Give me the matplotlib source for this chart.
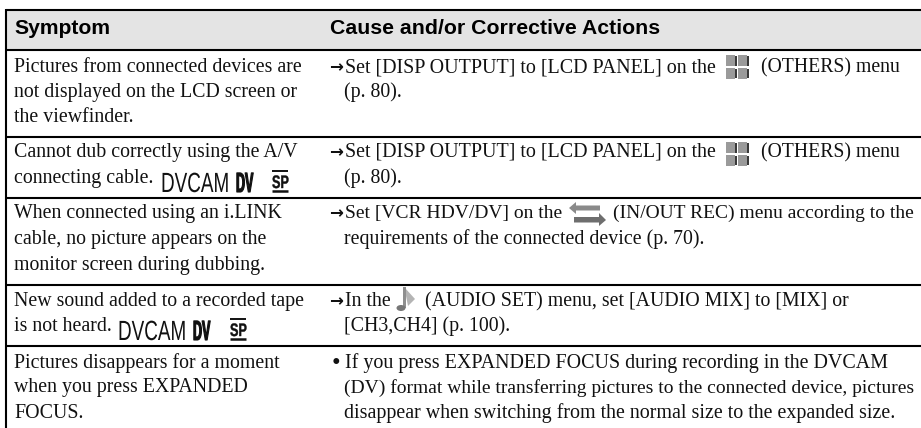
import matplotlib
matplotlib.use('Agg')
import matplotlib.pyplot as plt
import matplotlib.patheffects as pe
from matplotlib.patches import Rectangle, Polygon, Ellipse
from matplotlib.transforms import Affine2D

headers = ['Symptom', 'Cause and/or Corrective Actions']

symptoms = [
    ['Pictures from connected devices are', 'not displayed on the LCD screen or', 'the viewfinder.'],
    ['Cannot dub correctly using the A/V', 'connecting cable.'],
    ['When connected using an i.LINK', 'cable, no picture appears on the', 'monitor screen during dubbing.'],
    ['New sound added to a recorded tape', 'is not heard.'],
    ['Pictures disappears for a moment', 'when you press EXPANDED', 'FOCUS.'],
]
symptom_y = [[72, 97, 122], [157, 183], [218, 244, 270], [306, 331], [368, 392, 418]]

actions = [
    ['Set [DISP OUTPUT] to [LCD PANEL] on the', '(OTHERS) menu', '(p. 80).'],
    ['Set [DISP OUTPUT] to [LCD PANEL] on the', '(OTHERS) menu', '(p. 80).'],
    ['Set [VCR HDV/DV] on the', '(IN/OUT REC) menu according to the', 'requirements of the connected device (p. 70).'],
    ['In the', '(AUDIO SET) menu, set [AUDIO MIX] to [MIX] or', '[CH3,CH4] (p. 100).'],
    ['If you press EXPANDED FOCUS during recording in the DVCAM',
     '(DV) format while transferring pictures to the connected device, pictures',
     'disappear when switching from the normal size to the expanded size.'],
]
action_x = [[345, 761, 344], [345, 761, 344], [345, 613, 344], [345, 425, 344], [345, 344, 344]]
action_y = [[72, 72, 97], [157, 157, 183], [218, 218, 244], [306, 306, 331], [368, 393, 418]]
# the original squeezes or opens some lines, so a few sizes differ
action_fs = [[14.45, 14.2, 14.3], [14.45, 14.2, 14.3], [14.0, 14.0, 14.3], [14.3, 14.35, 14.35], [14.43, 14.0, 14.4]]
markers = ['\u2192', '\u2192', '\u2192', '\u2192', '\u2022']
marker_y = [72, 157, 218, 306, 368]

rules = [10, 50, 137, 198, 285, 346]

serif = ['Liberation Serif', 'DejaVu Serif']
sans = 'Liberation Sans'
ink = '#111111'


class Squeeze(pe.AbstractPathEffect):
    # no condensed font installed, so the glyphs are squeezed when drawn
    def __init__(self, sx, lw=0):
        super().__init__()
        self.sx = sx
        self.lw = lw

    def draw_path(self, renderer, gc, tpath, affine, rgbFace=None):
        gc.set_linewidth(self.lw)
        gc.set_foreground(ink)
        renderer.draw_path(gc, tpath, Affine2D().scale(self.sx, 1) + affine, rgbFace)


fig = plt.figure(figsize=(9.21, 4.28), dpi=100)
ax = fig.add_axes([0, 0, 1, 1])
ax.set_xlim(0, 921)
ax.set_ylim(428, 0)
ax.axis('off')

# header band and rules
ax.add_patch(Rectangle((6, 10), 915, 40, color='#e4e4e4', lw=0))
for y in rules:
    ax.plot([6, 921], [y, y], color='black', lw=1.5, solid_capstyle='butt')
ax.plot([6, 6], [9.3, 428], color='black', lw=1.5, solid_capstyle='butt')

ax.text(14, 34, headers[0], family=sans, weight='bold', fontsize=15.2, va='baseline')
ax.text(330, 34, headers[1], family=sans, weight='bold', fontsize=15.3, va='baseline')

for lines, ys in zip(symptoms, symptom_y):
    for line, y in zip(lines, ys):
        ax.text(14, y, line, family=serif, fontsize=14.35, va='baseline', color=ink)

for lines, xs, ys, sizes in zip(actions, action_x, action_y, action_fs):
    for line, x, y, size in zip(lines, xs, ys, sizes):
        ax.text(x, y, line, family=serif, fontsize=size, va='baseline', color=ink)

for m, y in zip(markers, marker_y):
    ax.text(329 if m == '\u2192' else 331, y, m, family='DejaVu Sans', weight='bold',
            fontsize=12, va='baseline', color=ink)


def format_badges(x_dvcam, x_dv, x_sp, base):
    ax.text(x_dvcam, base, 'DVCAM', family=sans, fontsize=20, va='baseline', color=ink,
            path_effects=[Squeeze(0.68)])
    ax.text(x_dv, base, 'DV', family=sans, weight='bold', fontsize=20, va='baseline', color=ink,
            path_effects=[Squeeze(0.45, 0.8)])
    ax.text(x_sp, base - 4, 'SP', family=sans, weight='bold', fontsize=13, va='baseline', color=ink,
            path_effects=[Squeeze(0.7, 0.3)])
    ax.plot([x_sp, x_sp + 16], [base - 21, base - 21], color=ink, lw=1.4, solid_capstyle='butt')
    ax.plot([x_sp, x_sp + 16], [base - 1, base - 1], color=ink, lw=1.8, solid_capstyle='butt')


format_badges(161, 236, 272, 192)
format_badges(118, 193, 230, 340)


def others_icon(x, y):
    for dx, dy in [(0, 0), (12, 0), (0, 12.5), (12, 12.5)]:
        ax.add_patch(Rectangle((x + dx, y + dy), 9, 11, color='#9a9a9a', lw=0))
        ax.add_patch(Rectangle((x + dx + 8.5, y + dy + 1), 2.5, 9.5, color='#3a3a3a', lw=0))


others_icon(726, 55)
others_icon(726, 142)

# in/out rec arrows
ax.add_patch(Polygon([(569, 208), (576, 202), (576, 205.5), (600, 205.5), (600, 210.5), (576, 210.5), (576, 214)],
                     color='#8a8a8a', lw=0))
ax.add_patch(Polygon([(606, 220), (599, 226), (599, 222.5), (574, 222.5), (574, 217), (599, 217), (599, 213)],
                     color='#6e6e6e', lw=0))

# audio note
ax.add_patch(Polygon([(405, 288), (415, 299), (408, 306), (406, 296)], color='#b4b4b4', lw=0))
ax.add_patch(Rectangle((403, 287), 3, 21, color='#8f8f8f', lw=0))
ax.add_patch(Ellipse((401, 308), 9, 6, color='#777777', lw=0))

fig.savefig('out.png', dpi=100)
